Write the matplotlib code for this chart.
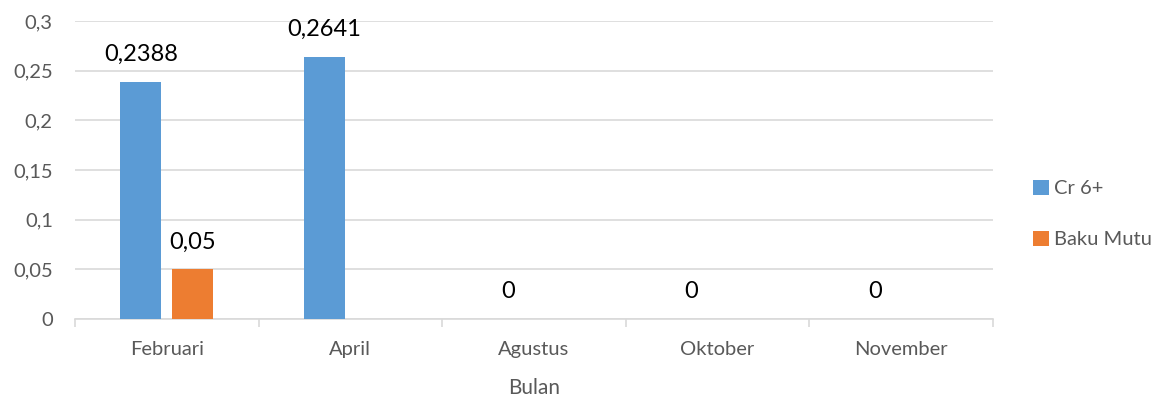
import matplotlib
matplotlib.use("Agg")
import matplotlib.pyplot as plt
import numpy as np

categories = ["Februari", "April", "Agustus", "Oktober", "November"]
cr6 = [0.2388, 0.2641, 0, 0, 0]
baku_mutu = [0.05, None, None, None, None]
yticks = [0, 0.05, 0.1, 0.15, 0.2, 0.25, 0.3]
ytick_labels = ["0", "0,05", "0,1", "0,15", "0,2", "0,25", "0,3"]

plt.rcParams['font.family'] = ['Lato', 'DejaVu Sans']

fig = plt.figure(figsize=(11.65, 4.0), dpi=100)
ax = fig.add_axes([75/1165, 1-319/400, (993-75)/1165, (319-21)/400])

x = np.arange(len(categories))
w = 0.223
off = 0.142
blue = "#5B9BD5"
orange = "#ED7D31"

cr_vals = [v for v in cr6]
b1 = ax.bar(x - off, cr_vals, w, color=blue, label="Cr 6+", zorder=3)
bm_x = [xi + off for xi, v in zip(x, baku_mutu) if v is not None]
bm_v = [v for v in baku_mutu if v is not None]
b2 = ax.bar(bm_x, bm_v, w, color=orange, label="Baku Mutu", zorder=3)

def fmt(v):
    return ("%g" % v).replace(".", ",")

for xi, v in zip(x - off, cr_vals):
    ax.annotate(fmt(v), (xi, v), xytext=(0, 12), textcoords="offset points",
                ha="center", va="bottom", fontsize=17, color="black")
for xi, v in zip(bm_x, bm_v):
    ax.annotate(fmt(v), (xi, v), xytext=(0, 12), textcoords="offset points",
                ha="center", va="bottom", fontsize=17, color="black")

ax.set_xlim(-0.5, len(categories) - 0.5)
ax.set_ylim(0, 0.3)
ax.set_yticks(yticks)
ax.set_yticklabels(ytick_labels)
ax.yaxis.grid(True, color="#D9D9D9", linewidth=1.2, zorder=0)
ax.set_axisbelow(True)

ax.set_xticks(x)
ax.set_xticklabels(categories)
ax.set_xticks(np.arange(len(categories) + 1) - 0.5, minor=True)
ax.tick_params(axis="x", which="major", length=0, pad=16, labelsize=14.5, labelcolor="#595959")
ax.tick_params(axis="x", which="minor", length=6, color="#D9D9D9", width=1.2)
ax.tick_params(axis="y", length=0, pad=16, labelsize=14.5, labelcolor="#595959")

for s in ["top", "right", "left"]:
    ax.spines[s].set_visible(False)
ax.spines["bottom"].set_color("#D9D9D9")
ax.spines["bottom"].set_linewidth(1.2)

ax.set_xlabel("Bulan", fontsize=15, color="#595959", labelpad=14)

leg = fig.legend(handles=[b1, b2], labels=["Cr 6+", "Baku Mutu"],
                 loc="center left", bbox_to_anchor=(1015/1165, 1-214/400),
                 frameon=False, fontsize=14.5, labelcolor="#595959",
                 handlelength=0.8, handleheight=0.8, handletextpad=0.25,
                 labelspacing=1.65)

fig.savefig("out.png", dpi=100)
